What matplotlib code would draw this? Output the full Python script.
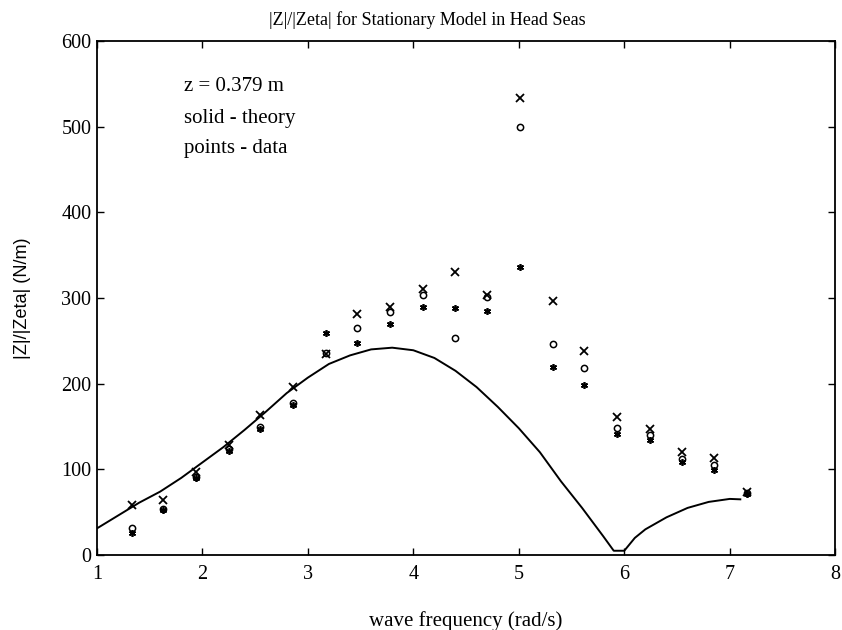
import matplotlib
matplotlib.use("Agg")
import matplotlib.pyplot as plt
import numpy as np

# measured wave frequencies (rad/s) and |Z|/|Zeta| data, three runs
freq = [1.33, 1.63, 1.94, 2.25, 2.55, 2.86, 3.17, 3.47, 3.78, 4.09,
        4.40, 4.70, 5.01, 5.32, 5.62, 5.93, 6.24, 6.55, 6.85, 7.16]
run_x = [58, 64, 97, 128, 164, 196, 235, 281, 290, 311,
         330, 303, 533, 297, 238, 161, 147, 120, 113, 73]
run_o = [31, 54, 91, 124, 150, 178, 236, 265, 284, 303,
         253, 301, 500, 246, 218, 148, 140, 112, 105, 72]
run_star = [26, 52, 90, 121, 147, 175, 259, 247, 270, 290,
            288, 285, 336, 220, 198, 141, 134, 109, 99, 71]

# theory curve
theory_f = [1.0, 1.2, 1.4, 1.6, 1.8, 2.0, 2.2, 2.4, 2.6, 2.8, 3.0, 3.2, 3.4,
            3.6, 3.8, 4.0, 4.2, 4.4, 4.6, 4.8, 5.0, 5.2, 5.4, 5.6, 5.8, 5.9,
            6.0, 6.1, 6.2, 6.4, 6.6, 6.8, 7.0, 7.1]
theory_v = [31, 46, 61, 74, 90, 108, 126, 146, 167, 189, 207, 223, 233,
            240, 242, 239, 230, 215, 196, 173, 148, 120, 86, 55, 22, 5,
            5, 20, 30, 44, 55, 62, 65.5, 65]

notes = ["z = 0.379 m", "solid - theory", "points - data"]

serif = "Liberation Serif"

fig = plt.figure(figsize=(8.42, 6.30), dpi=100)
ax = fig.add_axes([0.115, 0.119, 0.877, 0.816])

ax.plot(theory_f, theory_v, color="black", lw=1.4)
ax.plot(freq, run_x, ls="none", marker="x", ms=5.5, mew=1.3, color="black")
ax.plot(freq, run_o, ls="none", marker="o", ms=4.5, mew=1.1,
        mfc="none", mec="black")
ax.plot(freq, run_star, ls="none", marker=(6, 2, 0), ms=5, mew=1.2,
        color="black")

ax.set_xlim(1, 8)
ax.set_ylim(0, 600)
ax.set_xticks(range(1, 9))
ax.set_yticks(range(0, 601, 100))
ax.tick_params(direction="in", top=True, right=True, length=5, width=1,
               labelsize=14.5)
ax.tick_params(axis="x", pad=7)
ax.tick_params(axis="y", pad=4)
for lab in ax.get_xticklabels() + ax.get_yticklabels():
    lab.set_family(serif)
for sp in ax.spines.values():
    sp.set_linewidth(1.3)

for txt, yv in zip(notes, [542, 504, 469]):
    ax.text(1.83, yv, txt, family=serif, fontsize=15, va="baseline")

ax.set_xlabel("wave frequency (rad/s)", family=serif, fontsize=15,
              labelpad=20)
ax.set_ylabel("|Z|/|Zeta| (N/m)", family="Liberation Sans", fontsize=13,
              labelpad=22)
fig.text(0.508, 0.968, "|Z|/|Zeta| for Stationary Model in Head Seas",
         family=serif, fontsize=13, ha="center", va="center")

fig.savefig("out.png", dpi=100)
